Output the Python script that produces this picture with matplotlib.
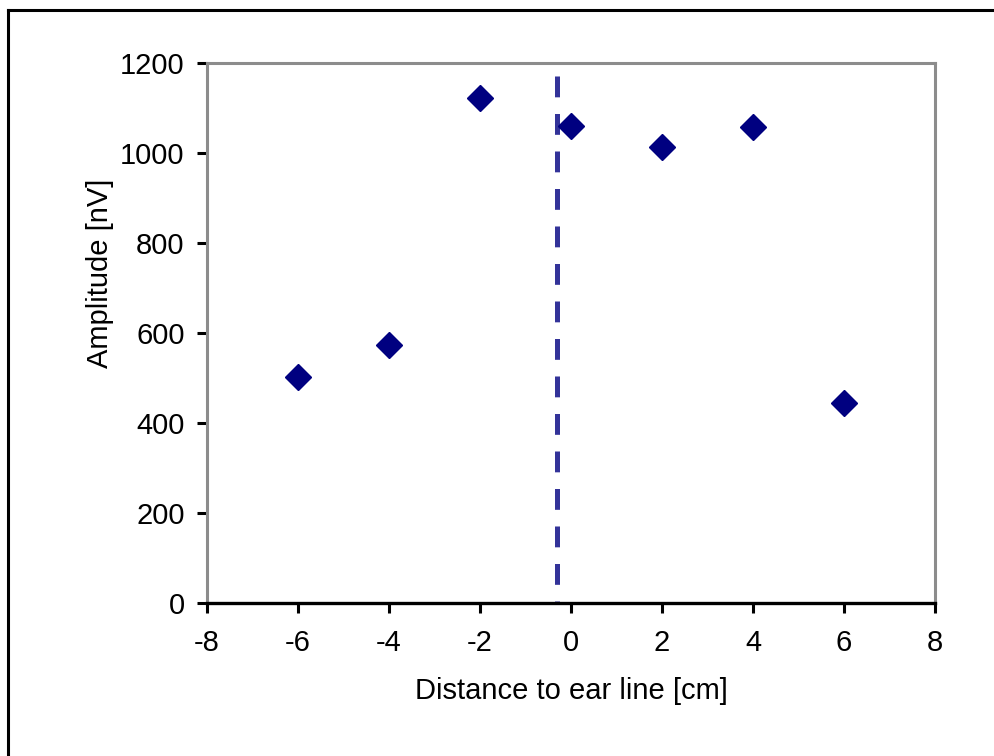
import matplotlib.pyplot as plt
from matplotlib.lines import Line2D

# Distance to ear line [cm] vs amplitude [nV]
distance = [-6, -4, -2, 0, 2, 4, 6]
amplitude = [502, 573, 1123, 1059, 1013, 1058, 445]

# vertical dashed marker line (drawn top-down)
ear_line_x = [-0.3, -0.3]
ear_line_y = [1172, 0]

x_ticks = [-8, -6, -4, -2, 0, 2, 4, 6, 8]
y_ticks = [0, 200, 400, 600, 800, 1000, 1200]

plt.rcParams["font.family"] = ["Liberation Sans", "DejaVu Sans"]
plt.rcParams["lines.scale_dashes"] = False
plt.rcParams["axes.unicode_minus"] = False

fig = plt.figure(figsize=(9.95, 7.56), dpi=100)
ax = fig.add_axes([0.208, 0.2024, 0.7317, 0.7143])

ax.plot(ear_line_x, ear_line_y, color="#333399", lw=3.6, dashes=(15, 12), zorder=2)
ax.plot(distance, amplitude, linestyle="none", marker="D", ms=13,
        color="#000080", markeredgecolor="#000080", zorder=3, clip_on=False)

ax.set_xlim(-8, 8)
ax.set_ylim(0, 1200)
ax.set_xticks(x_ticks)
ax.set_yticks(y_ticks)
ax.tick_params(axis="both", labelsize=21, width=2.2, length=7, color="black", pad=9)
ax.tick_params(axis="x", pad=12)

for side in ["top", "right", "left"]:
    ax.spines[side].set_color("#8c8c8c")
    ax.spines[side].set_linewidth(2.2)
ax.spines["bottom"].set_color("black")
ax.spines["bottom"].set_linewidth(2.4)
ax.spines["bottom"].set_zorder(4)

ax.set_xlabel("Distance to ear line [cm]", fontsize=21, labelpad=14)
ax.set_ylabel("Amplitude [nV]", fontsize=21)
ax.yaxis.set_label_coords(-0.128, 0.611)

# outer frame (top and left edges only)
fig.add_artist(Line2D([0.008, 1.0], [0.987, 0.987], transform=fig.transFigure, color="black", lw=2.2))
fig.add_artist(Line2D([0.008, 0.008], [0.0, 0.987], transform=fig.transFigure, color="black", lw=2.2))

fig.savefig("out.png", dpi=100)
